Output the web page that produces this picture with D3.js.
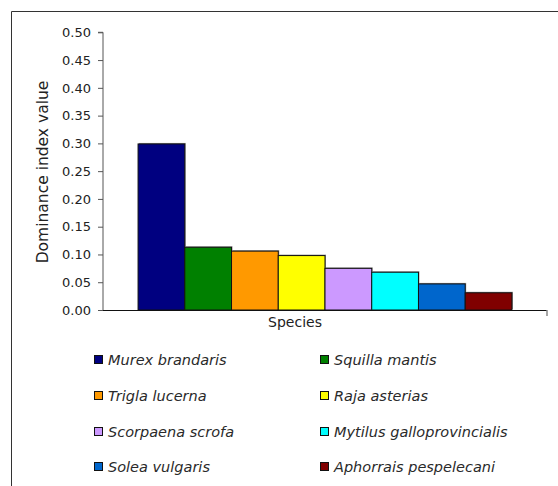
<!DOCTYPE html>
<html>
<head>
  <meta charset="UTF-8">
  <title>Dominance index</title>
  <script src="https://d3js.org/d3.v7.min.js"></script>
  <style>
    body { margin: 0; padding: 0; background: #fff; }
    svg { display: block; }
    .y-axis text { font-family: "DejaVu Sans", sans-serif; font-size: 13px; fill: #222; }
    .y-axis path, .y-axis line { stroke: #555; }
    .axis-title { font-family: "DejaVu Sans", sans-serif; font-size: 14px; fill: #222; }
    .legend text { font-family: "DejaVu Sans", sans-serif; font-style: italic; font-size: 14.5px; fill: #2a2a2a; }
  </style>
</head>
<body>
  <div id="chart"></div>
  <script>
    // data
    const species = ["Murex brandaris", "Squilla mantis", "Trigla lucerna", "Raja asterias",
                     "Scorpaena scrofa", "Mytilus galloprovincialis", "Solea vulgaris", "Aphorrais pespelecani"];
    const dominance = [0.299, 0.113, 0.106, 0.098, 0.075, 0.068, 0.047, 0.031];
    const colours = ["#000080", "#008000", "#FF9900", "#FFFF00", "#CC99FF", "#00FFFF", "#0066CC", "#800000"];
    const yTicks = [0, 0.05, 0.10, 0.15, 0.20, 0.25, 0.30, 0.35, 0.40, 0.45, 0.50];

    const width = 558, height = 486;
    const plot = { left: 103, right: 547, top: 32.3, bottom: 310 };

    const svg = d3.select("#chart").append("svg")
      .attr("width", width)
      .attr("height", height);

    // outer frame (only top and left edges are visible)
    svg.append("path")
      .attr("d", `M11.5,486 L11.5,11.5 L558,11.5`)
      .attr("fill", "none")
      .attr("stroke", "#333")
      .attr("stroke-width", 1);

    const x = d3.scaleBand()
      .domain(species)
      .range([plot.left, plot.right])
      .paddingInner(0)
      .paddingOuter(0.75);

    const y = d3.scaleLinear()
      .domain([0, 0.5])
      .range([plot.bottom, plot.top]);

    // y axis
    const yAxis = svg.append("g")
      .attr("class", "y-axis")
      .attr("transform", `translate(${plot.left},0)`)
      .call(d3.axisLeft(y).tickValues(yTicks).tickSize(5).tickPadding(7).tickFormat(d3.format(".2f")));
    yAxis.select(".domain").attr("d", `M-5,${y(0.5)}H0V${y(0)}`);

    // bars
    species.forEach((s, i) => {
      // little shadow like the original
      svg.append("rect")
        .attr("x", x(s) + 1)
        .attr("y", y(dominance[i]) - 1)
        .attr("width", x.bandwidth())
        .attr("height", y(0) - y(dominance[i]))
        .attr("fill", "#999");
      svg.append("rect")
        .attr("x", x(s))
        .attr("y", y(dominance[i]))
        .attr("width", x.bandwidth())
        .attr("height", y(0) - y(dominance[i]))
        .attr("fill", colours[i])
        .attr("stroke", "#111")
        .attr("stroke-width", 1);
    });

    // category axis
    svg.append("line")
      .attr("x1", plot.left).attr("x2", plot.right)
      .attr("y1", y(0) + 0.5).attr("y2", y(0) + 0.5)
      .attr("stroke", "#111");
    svg.append("line")
      .attr("x1", plot.right).attr("x2", plot.right)
      .attr("y1", y(0)).attr("y2", y(0) + 6)
      .attr("stroke", "#888").attr("stroke-width", 1.5);

    svg.append("text")
      .attr("class", "axis-title")
      .attr("x", 295)
      .attr("y", 327)
      .attr("text-anchor", "middle")
      .text("Species");

    svg.append("text")
      .attr("class", "axis-title")
      .style("font-size", "15.5px")
      .attr("transform", `translate(48,${172}) rotate(-90)`)
      .attr("text-anchor", "middle")
      .text("Dominance index value");

    // legend: 2 columns x 4 rows
    const legend = svg.append("g").attr("class", "legend");
    const colX = [94, 320];
    const rowY = [360, 396, 432, 467];
    species.forEach((s, i) => {
      const cx = colX[i % 2], cy = rowY[Math.floor(i / 2)];
      legend.append("rect")
        .attr("x", cx + 0.5).attr("y", cy - 4.5)
        .attr("width", 8).attr("height", 8)
        .attr("fill", colours[i])
        .attr("stroke", "#111");
      legend.append("text")
        .attr("x", cx + 14)
        .attr("y", cy + 5)
        .text(s);
    });
  </script>
</body>
</html>
